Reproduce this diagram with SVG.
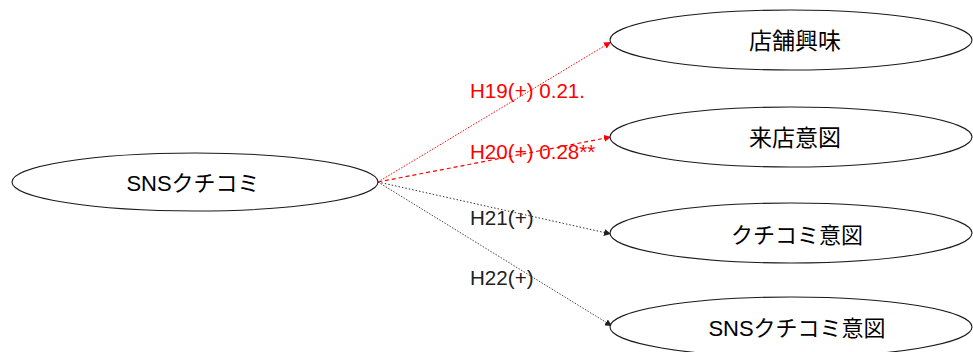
<svg xmlns="http://www.w3.org/2000/svg" width="973" height="352" viewBox="0 0 973 352">
<style>
.node ellipse{fill:#fff;stroke:#1a1a1a;stroke-width:1.1}
.node text{font-family:"Liberation Sans","Noto Sans CJK JP",sans-serif;font-size:22px;fill:#000;text-anchor:middle;dominant-baseline:central}
.node text.k{font-size:23px}
.lbl{font-family:"Liberation Sans","Noto Sans CJK JP",sans-serif;font-size:20.6px}
.red{fill:#ff0000}
.blk{fill:#222}
</style>
<defs>
<marker id="ar" viewBox="0 0 10 10" refX="10" refY="5" markerWidth="7" markerHeight="7" orient="auto" markerUnits="userSpaceOnUse"><path d="M0,0 L10,5 L0,10 z" fill="#ff0000"/></marker>
<marker id="ab" viewBox="0 0 10 10" refX="10" refY="5" markerWidth="7" markerHeight="7" orient="auto" markerUnits="userSpaceOnUse"><path d="M0,0 L10,5 L0,10 z" fill="#222"/></marker>
</defs>
<g id="connectors">
<line x1="378" y1="182" x2="611" y2="42" stroke="#ff0000" stroke-width="1" stroke-dasharray="1.5 1.5" marker-end="url(#ar)"/>
<line x1="378" y1="182" x2="611" y2="137" stroke="#ff0000" stroke-width="1.2" stroke-dasharray="4 3" marker-end="url(#ar)"/>
<line x1="378" y1="182" x2="611" y2="234" stroke="#333" stroke-width="1" stroke-dasharray="1.5 2" marker-end="url(#ab)"/>
<line x1="378" y1="182" x2="612" y2="326" stroke="#444" stroke-width="1" stroke-dasharray="1.5 1.5" marker-end="url(#ab)"/>
<text class="lbl red" x="470" y="98">H19(+) 0.21.</text>
<text class="lbl red" x="470" y="159">H20(+) 0.28**</text>
<text class="lbl blk" x="470" y="225">H21(+)</text>
<text class="lbl blk" x="470" y="285">H22(+)</text>
</g>
<g id="n-sns" class="node"><ellipse cx="195" cy="182" rx="183" ry="29"/><text x="193" y="183">SNSクチコミ</text></g>
<g id="n-tenpo" class="node"><ellipse cx="791" cy="40" rx="181" ry="30"/><text class="k" x="795" y="41">店舗興味</text></g>
<g id="n-raiten" class="node"><ellipse cx="791" cy="137" rx="181" ry="30"/><text class="k" x="795" y="138">来店意図</text></g>
<g id="n-kuchi" class="node"><ellipse cx="791" cy="233" rx="181" ry="30"/><text x="797" y="235">クチコミ意図</text></g>
<g id="n-snskuchi" class="node"><ellipse cx="791" cy="327" rx="181" ry="30"/><text x="797" y="328">SNSクチコミ意図</text></g>
</svg>
